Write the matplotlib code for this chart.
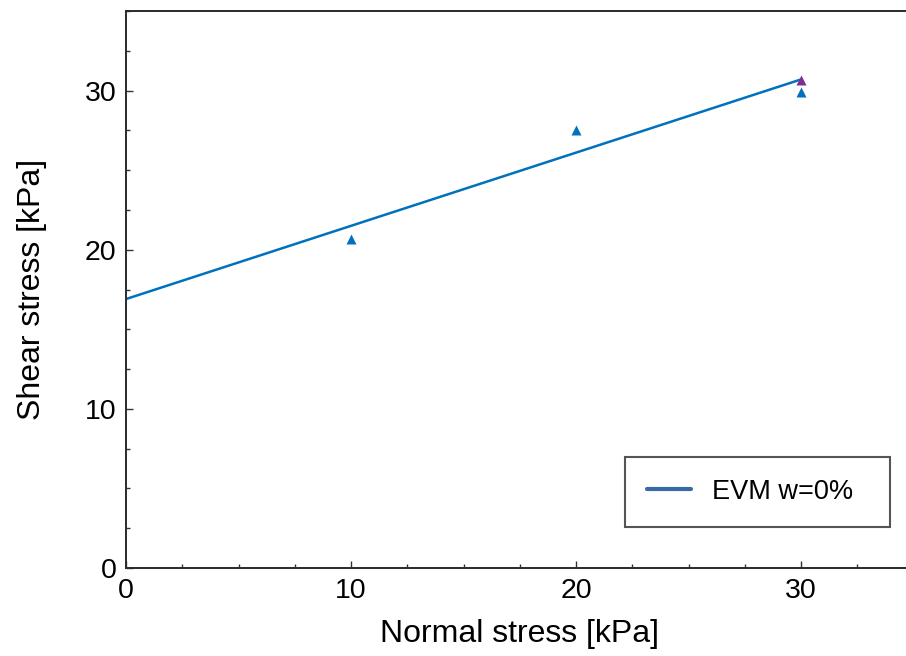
import matplotlib.pyplot as plt
from matplotlib.lines import Line2D
from matplotlib.ticker import MultipleLocator

plt.rcParams['font.family'] = ['Liberation Sans', 'DejaVu Sans']

# data
normal = [10, 20, 30]
shear = [20.7, 27.5, 29.9]
peak_x = [30]
peak_y = [30.65]
fit_x = [0, 30]
fit_y = [16.9, 30.7]

fig = plt.figure(figsize=(9.06, 6.56), dpi=100)
# axes runs past the right edge like in the reference
ax = fig.add_axes([126/906, (656-568)/656, 787.5/906, 557/656])

ax.plot(fit_x, fit_y, color='#0072BD', lw=1.8, zorder=2)
ax.plot(normal, shear, '^', color='#0072BD', ms=7, mec='none', zorder=3)
ax.plot(peak_x, peak_y, '^', color='#7E2F8E', ms=7, mec='none', zorder=3)

ax.set_xlim(0, 35)
ax.set_ylim(0, 35)
ax.set_xticks([0, 10, 20, 30])
ax.set_yticks([0, 10, 20, 30])
ax.xaxis.set_minor_locator(MultipleLocator(2.5))
ax.yaxis.set_minor_locator(MultipleLocator(2.5))
ax.tick_params(which='both', direction='in', labelsize=20.5, colors='#333333', labelcolor='black', width=1)
ax.tick_params(which='major', length=5, pad=7)
ax.tick_params(which='minor', length=3)
for s in ax.spines.values():
    s.set_color('#2a2a2a')
    s.set_linewidth(1.4)

ax.set_xlabel('Normal stress [kPa]', fontsize=23, labelpad=11)
ax.set_ylabel('Shear stress [kPa]', fontsize=23, labelpad=27)

h = Line2D([], [], color='#3a6aa5', lw=3, solid_capstyle='round')
leg = ax.legend([h], ['EVM w=0%'], loc='lower left',
                bbox_to_anchor=(0.634, 0.0736, 0.336, 0.127), mode='expand',
                fontsize=19.5, frameon=True, fancybox=False, borderpad=0.82,
                handlelength=1.6, handletextpad=0.8, borderaxespad=0)
leg.get_frame().set_edgecolor('#2a2a2a')
leg.get_frame().set_linewidth(1.5)

fig.savefig('out.png', dpi=100)
